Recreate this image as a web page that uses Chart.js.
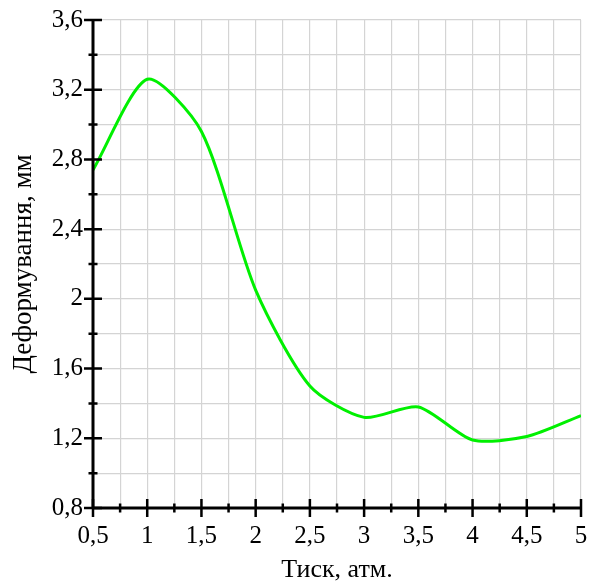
<!DOCTYPE html>
<html>
<head>
<meta charset="utf-8">
<script src="https://cdn.jsdelivr.net/npm/chart.js@4.4.0/dist/chart.umd.min.js"></script>
<style>
  html, body { margin: 0; padding: 0; background: #fff; }
  canvas { display: block; }
</style>
</head>
<body>
<canvas id="deformChart" width="595" height="582"></canvas>
<script>
// тиск, атм. і деформування, мм
const pressure = [0.5, 1, 1.5, 2, 2.5, 3, 3.5, 4, 4.5, 5];
const deformation = [2.74, 3.26, 2.96, 2.05, 1.50, 1.32, 1.38, 1.19, 1.21, 1.33];

const xLabel = 'Тиск, атм.';
const yLabel = 'Деформування, мм';

const serif = "'Liberation Serif', 'Times New Roman', serif";

function fmt(v) {
    return Number(v.toFixed(2)).toString().replace('.', ',');
}
const isMajorX = v => Math.round(v * 4) % 2 === 0;
const isMajorY = v => Math.round(v * 10) % 4 === 0;

// чорні осі з рисками, що перетинають лінію осі
const crossTicks = {
    id: 'crossTicks',
    afterDraw(chart) {
        const ctx = chart.ctx;
        const xs = chart.scales.x, ys = chart.scales.y;
        const x0 = xs.left, y0 = ys.bottom;
        ctx.save();
        ctx.strokeStyle = '#000';
        ctx.lineCap = 'butt';

        ctx.lineWidth = 3;
        ctx.beginPath();
        ctx.moveTo(x0, ys.top);
        ctx.lineTo(x0, y0);
        ctx.moveTo(x0, y0);
        ctx.lineTo(xs.right, y0);
        ctx.stroke();

        ctx.lineWidth = 2.5;
        ctx.beginPath();
        xs.ticks.forEach(t => {
            const px = xs.getPixelForValue(t.value);
            const h = isMajorX(t.value) ? 9 : 4.5;
            ctx.moveTo(px, y0 - h);
            ctx.lineTo(px, y0 + h);
        });
        ys.ticks.forEach(t => {
            const py = ys.getPixelForValue(t.value);
            const h = isMajorY(t.value) ? 9 : 4.5;
            ctx.moveTo(x0 - h, py);
            ctx.lineTo(x0 + h, py);
        });
        ctx.stroke();
        ctx.restore();
    }
};

new Chart(document.getElementById('deformChart'), {
    type: 'line',
    data: {
        datasets: [{
            data: pressure.map((p, i) => ({ x: p, y: deformation[i] })),
            borderColor: '#00f000',
            borderWidth: 3,
            pointRadius: 0,
            tension: 0.25,
            fill: false
        }]
    },
    options: {
        responsive: false,
        animation: false,
        layout: { padding: { top: 20, right: 14, left: 0, bottom: 0 } },
        plugins: {
            legend: { display: false },
            tooltip: { enabled: false }
        },
        scales: {
            x: {
                type: 'linear',
                min: 0.5,
                max: 5,
                afterFit: s => { s.height = 74; },
                grid: {
                    color: '#d4d4d4', lineWidth: 1.2,
                    drawTicks: true, tickLength: 13, tickColor: 'rgba(0,0,0,0)'
                },
                border: { display: false },
                ticks: {
                    stepSize: 0.25,
                    autoSkip: false,
                    maxRotation: 0,
                    padding: 0,
                    color: '#000',
                    font: { family: serif, size: 25 },
                    callback: v => isMajorX(v) ? fmt(v) : ''
                },
                title: {
                    display: true,
                    text: xLabel,
                    color: '#000',
                    font: { family: serif, size: 26 },
                    padding: { top: 0, bottom: -4 }
                }
            },
            y: {
                min: 0.8,
                max: 3.6,
                afterFit: s => { s.width = 93; },
                grid: {
                    color: '#d4d4d4', lineWidth: 1.2,
                    drawTicks: true, tickLength: 10, tickColor: 'rgba(0,0,0,0)'
                },
                border: { display: false },
                ticks: {
                    stepSize: 0.2,
                    autoSkip: false,
                    padding: 0,
                    color: '#000',
                    font: { family: serif, size: 25 },
                    callback: v => isMajorY(v) ? fmt(v) : ''
                },
                title: {
                    display: true,
                    text: yLabel,
                    color: '#000',
                    font: { family: serif, size: 27 },
                    padding: { top: 8, bottom: 0 }
                }
            }
        }
    },
    plugins: [crossTicks]
});
</script>
</body>
</html>
